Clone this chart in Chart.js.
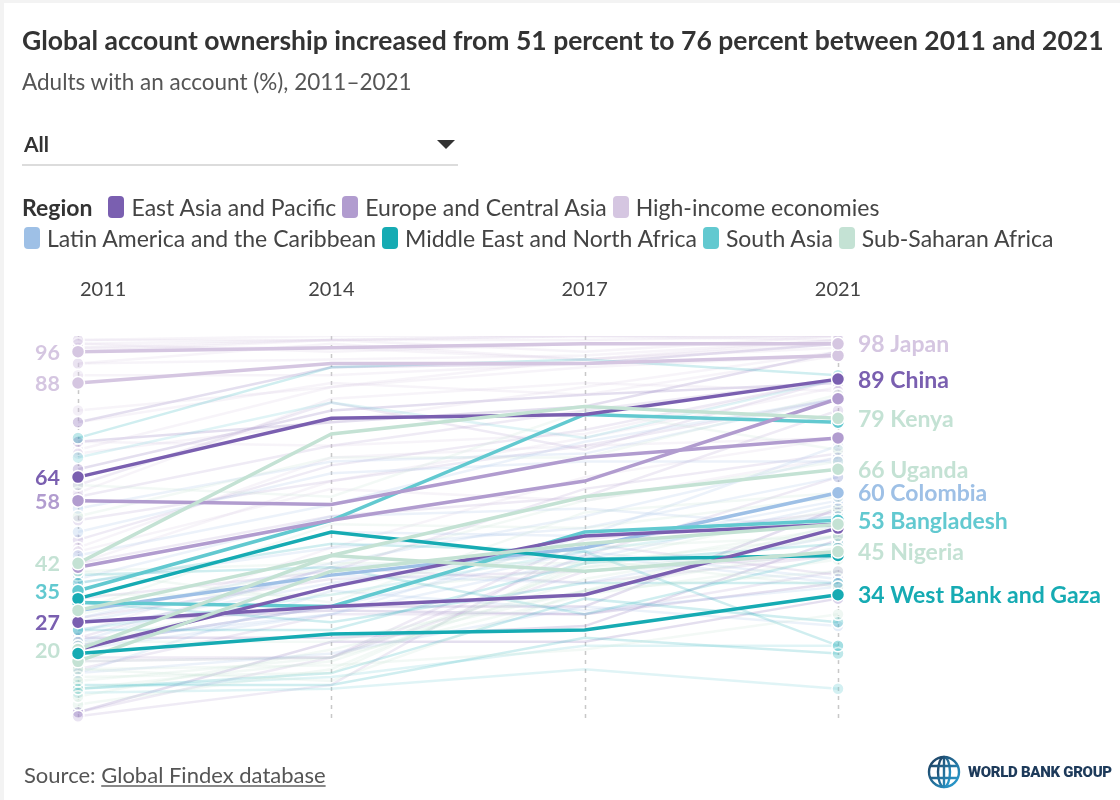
<!DOCTYPE html>
<html>
<head>
<meta charset="utf-8">
<script src="https://cdn.jsdelivr.net/npm/chart.js@4.4.1/dist/chart.umd.min.js"></script>
<style>
  html, body { margin: 0; padding: 0; }
  body {
    width: 1120px; height: 800px; overflow: hidden;
    background: #f3f3f3; font-family: Lato, "Noto Sans", sans-serif; color: #333;
    position: relative;
  }
  #card { position: absolute; left: 4px; top: 3px; width: 1116px; height: 797px; background: #fff; }
  #chart { position: absolute; left: 0; top: 0; }
  .txt { position: absolute; white-space: nowrap; }
  .title { left: 22px; top: 24px; font-size: 26.5px; line-height: 32px; font-weight: 700; color: #333; }
  .subtitle { left: 22px; top: 68px; font-size: 22.5px; line-height: 28px; color: #555; }
  .select { left: 22px; top: 130px; width: 436px; height: 34px; border-bottom: 2px solid #dcdcdc; }
  .select span { position: absolute; left: 2px; top: 1px; font-size: 21px; font-weight: 700; line-height: 26px; color: #333; }
  .select i { position: absolute; left: 415px; top: 10px; width: 0; height: 0;
    border-left: 9px solid transparent; border-right: 9px solid transparent; border-top: 9px solid #333; }
  .legend { left: 22px; font-size: 23px; line-height: 28px; color: #444; display: flex; align-items: center; }
  .legend b { color: #333; margin-right: 10px; }
  .legend .sw { display: inline-block; width: 16px; height: 22px; border-radius: 4px; margin: 0 7px 0 6px; }
  .source { left: 24px; top: 762px; font-size: 22px; line-height: 26px; color: #555; }
  .source u { text-decoration-color: #888; }
  .logo { left: 926px; top: 752px; display: flex; align-items: center; }
  .logo span { font-family: Roboto, sans-serif; font-weight: 900; font-size: 15px; color: #1d3a5a; margin-left: 6px; letter-spacing: -0.3px; }
</style>
</head>
<body>
<div id="card"></div>
<canvas id="chart" width="1120" height="800"></canvas>

<div class="txt title">Global account ownership increased from 51 percent to 76 percent between 2011 and 2021</div>
<div class="txt subtitle">Adults with an account (%), 2011–2021</div>
<div class="txt select"><span>All</span><i></i></div>
<div class="txt legend" id="legendRow1" style="top:193px"></div>
<div class="txt legend" id="legendRow2" style="top:224px"></div>
<div class="txt source">Source: <u>Global Findex database</u></div>
<div class="txt logo">
  <svg width="36" height="40" viewBox="0 0 36 40">
    <defs>
      <linearGradient id="g" x1="0" y1="0" x2="1" y2="1">
        <stop offset="0" stop-color="#1d3a5a"/><stop offset="1" stop-color="#2aa3d8"/>
      </linearGradient>
    </defs>
    <g fill="none" stroke="url(#g)" stroke-width="2.4">
      <circle cx="18" cy="20" r="15"/>
      <ellipse cx="18" cy="20" rx="6" ry="15"/>
      <path d="M4 14 H32 M4 26 H32 M18 5 V35"/>
    </g>
  </svg>
  <span>WORLD BANK GROUP</span>
</div>

<script>
// Survey years
const years = ["2011", "2014", "2017", "2021"];

// Regions (legend order)
const regions = [
  "East Asia and Pacific",
  "Europe and Central Asia",
  "High-income economies",
  "Latin America and the Caribbean",
  "Middle East and North Africa",
  "South Asia",
  "Sub-Saharan Africa",
];
const regionColors = ["#7a5fb0", "#b19ccf", "#d5c6e1", "#9ec0e6", "#16abb3", "#62c9d0", "#c4e2d4"];

// Highlighted economies: adults with an account (%), 2011, 2014, 2017, 2021
const colombia = [30, 39, 46, 60];
const bangladesh = [32, 31, 50, 53];
const india = [35, 53, 80, 78];
const algeria = [33, 50, 43, 44];
const indonesia = [20, 36, 49, 52];
const philippines = [27, 31, 34, 51];
const ukraine = [41, 53, 63, 84];
const turkey = [58, 57, 69, 74];
const china = [64, 79, 80, 89];
const unitedStates = [88, 93, 93, 95];
const japan = [96, 97, 98, 98];
const tanzania = [17, 40, 47, 52];
const nigeria = [30, 44, 40, 45];
const uganda = [20, 44, 59, 66];
const kenya = [42, 75, 82, 79];
const westBankGaza = [19, 24, 25, 34];

// drawn bottom to top
const hlNames = ["Colombia", "Bangladesh", "India", "Algeria", "Indonesia", "Philippines", "Ukraine", "Turkey",
  "China", "United States", "Japan", "Tanzania", "Nigeria", "Uganda", "Kenya", "West Bank and Gaza"];
const hlValues = [colombia, bangladesh, india, algeria, indonesia, philippines, ukraine, turkey,
  china, unitedStates, japan, tanzania, nigeria, uganda, kenya, westBankGaza];
const hlRegion = [3, 5, 5, 4, 0, 0, 1, 1, 0, 2, 2, 6, 6, 6, 6, 4];

const leftLabelled = ["Japan", "United States", "China", "Turkey", "Kenya", "India", "Philippines", "Uganda"];
const rightLabelled = ["Japan", "China", "Kenya", "Uganda", "Colombia", "Bangladesh", "Nigeria", "West Bank and Gaza"];

// Other economies (faded lines), per region
const otherEastAsia = [
  [73, 78, 82, 96], [66, 81, 85, 88], [78, 92, 93, 98], [21, 31, 31, 56],
  [4, 22, 22, 33], [27, 30, 29, 37], [23, 23, 26, 48],
];
const otherEurope = [
  [48, 67, 76, 89], [42, 54, 59, 81], [62, 83, 71, 89], [33, 40, 61, 70],
  [17, 18, 48, 55], [4, 18, 40, 45], [23, 41, 37, 44], [28, 38, 40, 44],
  [18, 18, 44, 64], [53, 63, 72, 84], [3, 11, 47, 39], [59, 72, 81, 89], [15, 29, 29, 40],
];
const otherHighIncome = [
  [98, 99, 99, 100], [97, 99, 96, 100], [97, 97, 94, 99], [96, 99, 100, 100],
  [99, 99, 100, 99], [93, 94, 95, 99], [71, 87, 94, 97], [93, 98, 94, 98],
  [46, 69, 72, 74], [42, 63, 74, 87], [24, 46, 64, 74], [70, 78, 87, 96],
  [78, 88, 85, 95], [73, 72, 75, 89], [90, 90, 93, 95], [98, 96, 98, 98],
  [60, 84, 88, 86], [45, 61, 58, 69], [81, 87, 92, 95], [99, 100, 100, 100],
];
const otherLatinAmerica = [
  [56, 68, 70, 84], [27, 39, 37, 49], [33, 50, 49, 72], [20, 29, 43, 57],
  [28, 42, 54, 69], [37, 46, 51, 64], [38, 54, 56, 51], [50, 65, 68, 68],
  [21, 31, 45, 38], [14, 19, 31, 26], [44, 57, 73, 84], [22, 29, 49, 54],
  [14, 35, 30, 36], [22, 41, 44, 37], [25, 37, 46, 58],
];
const otherMiddleEast = [
  [74, 92, 94, 90], [10, 14, 33, 27], [39, 41, 29, 44], [32, 27, 37, 37],
  [25, 25, 42, 47], [37, 47, 45, 21], [11, 11, 23, 19],
];
const otherSouthAsia = [
  [10, 13, 21, 21], [69, 83, 74, 89], [25, 34, 45, 54], [9, 10, 15, 10],
];
const otherAfrica = [
  [54, 69, 69, 85], [29, 41, 58, 68], [6, 15, 42, 56], [22, 22, 35, 46],
  [21, 36, 46, 49], [40, 32, 55, 60], [8, 20, 35, 40], [15, 12, 35, 52],
  [10, 17, 38, 49], [13, 14, 43, 36], [17, 18, 34, 43], [40, 42, 42, 49],
  [34, 34, 41, 51], [15, 16, 20, 29], [62, 59, 81, 71], [30, 52, 51, 59],
  [12, 18, 41, 45],
];
const otherByRegion = [otherEastAsia, otherEurope, otherHighIncome, otherLatinAmerica,
  otherMiddleEast, otherSouthAsia, otherAfrica];

const FONT = "Lato, 'Noto Sans', sans-serif";

const hexToRgba = (hex, a) => {
  const n = parseInt(hex.slice(1), 16);
  return `rgba(${(n >> 16) & 255}, ${(n >> 8) & 255}, ${n & 255}, ${a})`;
};

// Legend
const buildLegend = () => {
  const row1 = document.getElementById("legendRow1");
  const row2 = document.getElementById("legendRow2");
  row1.innerHTML = "<b>Region</b>";
  regions.forEach((name, i) => {
    const item = `<span class="sw" style="background:${regionColors[i]}"></span>${name}`;
    if (i < 3) row1.innerHTML += item;
    else row2.innerHTML += item;
  });
  row2.firstChild.style.marginLeft = "2px";
};
buildLegend();

// Build datasets: faded first, highlights on top
const datasets = [];
otherByRegion.forEach((list, r) => {
  list.forEach((values) => {
    datasets.push({
      data: values,
      borderColor: hexToRgba(regionColors[r], 0.2),
      borderWidth: 2.5,
      pointRadius: [6, 0, 0, 6],
      pointBackgroundColor: hexToRgba(regionColors[r], 0.28),
      pointBorderColor: "#fff",
      pointBorderWidth: 1.5,
    });
  });
});
hlValues.forEach((values, i) => {
  const c = regionColors[hlRegion[i]];
  datasets.push({
    label: hlNames[i],
    data: values,
    borderColor: c,
    borderWidth: 3.5,
    pointRadius: [6.5, 0, 0, 6.5],
    pointBackgroundColor: c,
    pointBorderColor: "#fff",
    pointBorderWidth: 1.5,
  });
});
// later datasets drawn on top
datasets.forEach((d, i) => { d.order = datasets.length - i; });

const slopePlugin = {
  id: "slopePlugin",
  beforeDatasetsDraw(chart) {
    const { ctx, scales: { x, y } } = chart;
    ctx.save();
    ctx.strokeStyle = "#c8c8c8";
    ctx.lineWidth = 1.5;
    ctx.setLineDash([4, 5]);
    years.forEach((yr, i) => {
      const px = Math.round(x.getPixelForValue(i)) + 0.5;
      ctx.beginPath();
      ctx.moveTo(px, y.getPixelForValue(100));
      ctx.lineTo(px, y.getPixelForValue(2.5));
      ctx.stroke();
    });
    ctx.restore();
  },
  afterDatasetsDraw(chart) {
    const { ctx, scales: { x, y } } = chart;
    ctx.save();
    // year labels
    ctx.font = `20px ${FONT}`;
    ctx.fillStyle = "#444";
    ctx.textBaseline = "middle";
    years.forEach((yr, i) => {
      const px = x.getPixelForValue(i);
      ctx.textAlign = i === 0 ? "left" : "center";
      ctx.fillText(yr, i === 0 ? px + 2 : px, 290);
    });
    // value labels
    hlNames.forEach((name, i) => {
      const vals = hlValues[i];
      ctx.fillStyle = regionColors[hlRegion[i]];
      if (leftLabelled.includes(name)) {
        ctx.font = `700 21.5px ${FONT}`;
        ctx.textAlign = "right";
        ctx.fillText(String(vals[0]), x.getPixelForValue(0) - 18, y.getPixelForValue(vals[0]) + 1);
      }
      if (rightLabelled.includes(name)) {
        ctx.font = `700 23px ${FONT}`;
        ctx.textAlign = "left";
        ctx.fillText(`${vals[3]} ${name}`, x.getPixelForValue(3) + 20, y.getPixelForValue(vals[3]) + 1);
      }
    });
    ctx.restore();
  },
};

new Chart(document.getElementById("chart").getContext("2d"), {
  type: "line",
  data: { labels: years, datasets: datasets },
  options: {
    responsive: false,
    animation: false,
    events: [],
    layout: { padding: { left: 78, right: 282, top: 336, bottom: 72 } },
    elements: { line: { tension: 0 } },
    scales: {
      x: { type: "category", display: false, grid: { display: false } },
      y: { type: "linear", min: 0, max: 100, display: false, grid: { display: false } },
    },
    plugins: { legend: { display: false }, tooltip: { enabled: false } },
  },
  plugins: [slopePlugin],
});
</script>
</body>
</html>
